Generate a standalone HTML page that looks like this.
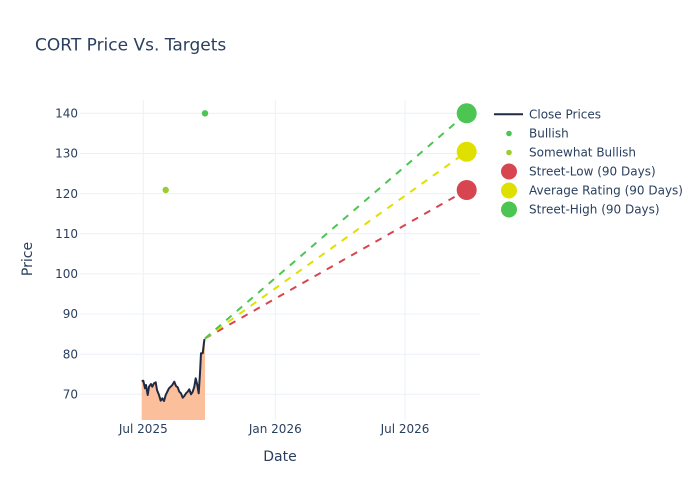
<!DOCTYPE html>
<html><head><meta charset="utf-8"><style>
html,body{margin:0;padding:0;background:#fff;}
svg{display:block;font-family:"DejaVu Sans","Liberation Sans",sans-serif;}
</style></head><body>
<svg width="700" height="500" viewBox="0 0 700 500" xmlns="http://www.w3.org/2000/svg">
<rect width="700" height="500" fill="#fff"/>
<text x="35" y="50.5" font-size="17" fill="#2a3f5f">CORT Price Vs. Targets</text>
<g stroke="#ebf0f8" stroke-width="1">
<line x1="80" x2="480" y1="394.3" y2="394.3"/>
<line x1="80" x2="480" y1="354.2" y2="354.2"/>
<line x1="80" x2="480" y1="314.0" y2="314.0"/>
<line x1="80" x2="480" y1="273.9" y2="273.9"/>
<line x1="80" x2="480" y1="233.7" y2="233.7"/>
<line x1="80" x2="480" y1="193.6" y2="193.6"/>
<line x1="80" x2="480" y1="153.5" y2="153.5"/>
<line x1="80" x2="480" y1="113.3" y2="113.3"/>
<line x1="143.3" x2="143.3" y1="100" y2="420"/>
<line x1="275.3" x2="275.3" y1="100" y2="420"/>
<line x1="405" x2="405" y1="100" y2="420"/>
</g>
<g font-size="12" fill="#2a3f5f" text-anchor="end">
<text x="78" y="398.5">70</text>
<text x="78" y="358.4">80</text>
<text x="78" y="318.2">90</text>
<text x="78" y="278.1">100</text>
<text x="78" y="237.9">110</text>
<text x="78" y="197.8">120</text>
<text x="78" y="157.7">130</text>
<text x="78" y="117.5">140</text>
</g>
<g font-size="12" fill="#2a3f5f" text-anchor="middle">
<text x="143.3" y="433">Jul 2025</text>
<text x="275.3" y="433">Jan 2026</text>
<text x="405" y="433">Jul 2026</text>
</g>
<text x="280" y="461" font-size="14" fill="#2a3f5f" text-anchor="middle">Date</text>
<text transform="translate(32,259) rotate(-90)" font-size="14" fill="#2a3f5f" text-anchor="middle">Price</text>
<polygon fill="#fcbf9b" points="141.7,420 141.7,381 143.3,380.7 145,388.3 146,385 147.7,395 149,386.7 151,384 152.3,386.7 154,383.3 155.7,382.3 157,390 159,395 160.7,400.7 162.3,398.3 164,401 165.7,395 167.3,391.7 169,388.3 170.7,386.7 172.3,385 174.3,381.7 176,386 177.7,387.3 179.3,391.7 181,393.3 182.7,397.7 184.3,396 186,393.3 187.7,391.7 189.3,389.3 191,394.3 192.7,391.7 194.3,386.7 195.7,378.3 197.3,385 198.7,393.3 200,373.3 201,353.3 202.7,353.3 204.3,340 205,339.3 205,420"/>
<polyline fill="none" stroke="#1f2a44" stroke-width="2" stroke-linejoin="round" points="141.7,381 143.3,380.7 145,388.3 146,385 147.7,395 149,386.7 151,384 152.3,386.7 154,383.3 155.7,382.3 157,390 159,395 160.7,400.7 162.3,398.3 164,401 165.7,395 167.3,391.7 169,388.3 170.7,386.7 172.3,385 174.3,381.7 176,386 177.7,387.3 179.3,391.7 181,393.3 182.7,397.7 184.3,396 186,393.3 187.7,391.7 189.3,389.3 191,394.3 192.7,391.7 194.3,386.7 195.7,378.3 197.3,385 198.7,393.3 200,373.3 201,353.3 202.7,353.3 204.3,340 205,339.3"/>
<g fill="none" stroke-width="2" stroke-dasharray="7,7">
<line x1="205" y1="338.5" x2="466.7" y2="190" stroke="#d64550"/>
<line x1="205" y1="338.5" x2="466.7" y2="151.7" stroke="#e0e000"/>
<line x1="205" y1="338.5" x2="466.7" y2="113.3" stroke="#4cc552"/>
</g>
<circle cx="205" cy="113.3" r="3.2" fill="#4cc552"/>
<circle cx="165.7" cy="190" r="3.2" fill="#9acd32"/>
<circle cx="466.7" cy="190" r="10" fill="#d64550"/>
<circle cx="466.7" cy="151.7" r="10" fill="#e0e000"/>
<circle cx="466.7" cy="113.3" r="10" fill="#4cc552"/>
<line x1="494" x2="523" y1="114.3" y2="114.3" stroke="#1f2a44" stroke-width="2"/>
<circle cx="509" cy="133.5" r="2.8" fill="#4cc552"/>
<circle cx="509" cy="152.5" r="2.8" fill="#9acd32"/>
<circle cx="509" cy="171.5" r="8" fill="#d64550"/>
<circle cx="509" cy="190.5" r="8" fill="#e0e000"/>
<circle cx="509" cy="209.5" r="8" fill="#4cc552"/>
<g font-size="12" fill="#2a3f5f">
<text x="529" y="118.5">Close Prices</text>
<text x="529" y="137.7">Bullish</text>
<text x="529" y="156.7">Somewhat Bullish</text>
<text x="529" y="175.7">Street-Low (90 Days)</text>
<text x="529" y="194.7">Average Rating (90 Days)</text>
<text x="529" y="213.7">Street-High (90 Days)</text>
</g>
</svg>
</body></html>
